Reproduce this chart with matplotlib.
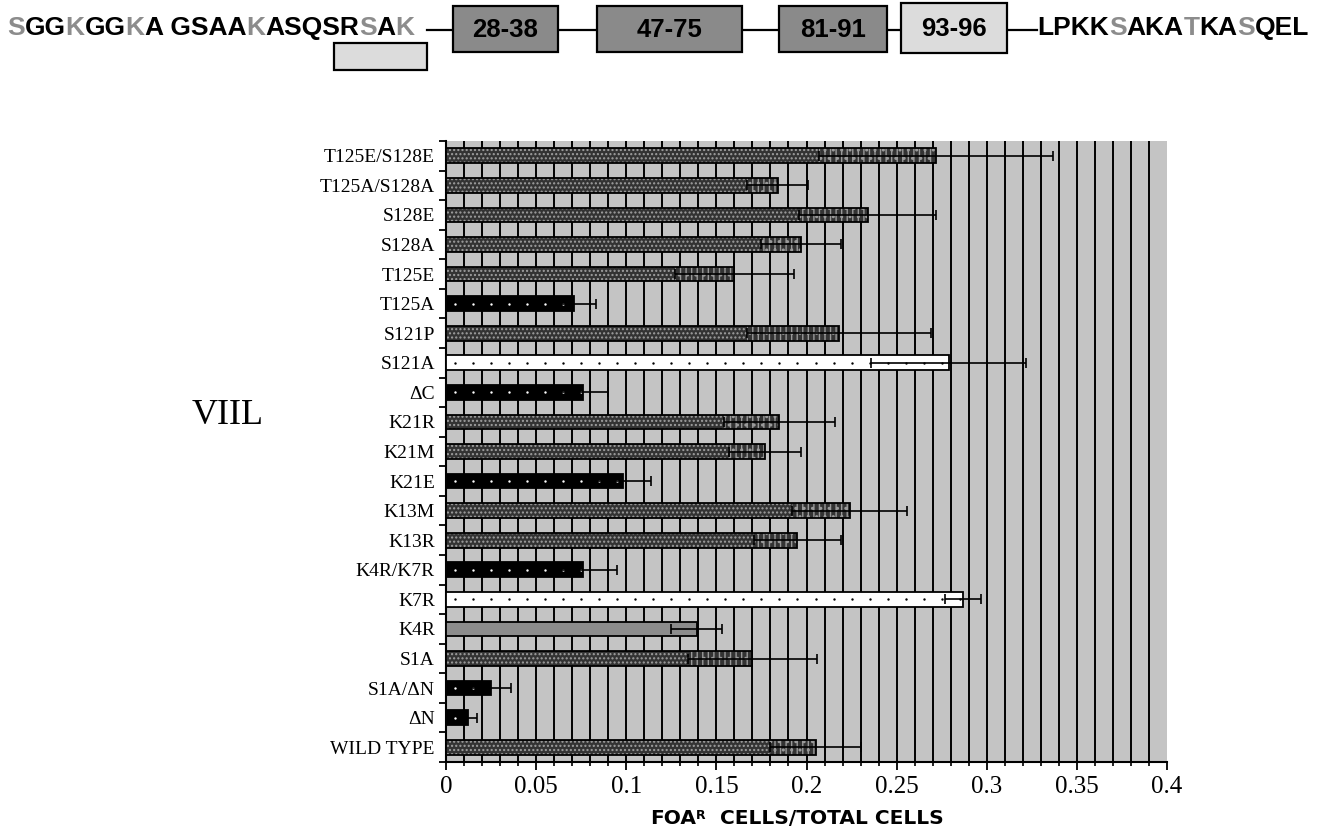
import numpy as np
import matplotlib
matplotlib.use("Agg")
import matplotlib.pyplot as plt
from matplotlib.patches import Rectangle
from matplotlib.offsetbox import TextArea, HPacker, AnnotationBbox

# ---------------- data ----------------
labels = ["T125E/S128E", "T125A/S128A", "S128E", "S128A", "T125E", "T125A",
          "S121P", "S121A", "\u0394C", "K21R", "K21M", "K21E", "K13M", "K13R",
          "K4R/K7R", "K7R", "K4R", "S1A", "S1A/\u0394N", "\u0394N", "WILD TYPE"]
values = [0.272, 0.184, 0.234, 0.197, 0.160, 0.071, 0.218, 0.279, 0.076, 0.185,
          0.177, 0.098, 0.224, 0.195, 0.076, 0.287, 0.139, 0.170, 0.025, 0.012, 0.205]
errors = [0.065, 0.017, 0.038, 0.022, 0.033, 0.012, 0.051, 0.043, 0.014, 0.031,
          0.020, 0.016, 0.032, 0.024, 0.019, 0.010, 0.014, 0.036, 0.011, 0.005, 0.025]
# bar style classes
kinds = ["hatch", "hatch", "hatch", "hatch", "hatch", "black", "hatch", "white",
         "black", "hatch", "hatch", "black", "hatch", "hatch", "black", "white",
         "gray", "hatch", "black", "black", "hatch"]
xticks = [0, 0.05, 0.1, 0.15, 0.2, 0.25, 0.3, 0.35, 0.4]
xticklabels = ["0", "0.05", "0.1", "0.15", "0.2", "0.25", "0.3", "0.35", "0.4"]

seq_left = [("S", "gray"), ("GG", "k"), ("K", "gray"), ("GG", "k"), ("K", "gray"),
            ("A GSAA", "k"), ("K", "gray"), ("ASQSR", "k"), ("S", "gray"),
            ("A", "k"), ("K", "gray")]
seq_right = [("LPKK", "k"), ("S", "gray"), ("AKA", "k"), ("T", "gray"),
             ("KA", "k"), ("S", "gray"), ("QEL", "k")]
domains = ["28-38", "47-75", "81-91", "93-96"]

W, H = 1318, 838
fig = plt.figure(figsize=(W / 100, H / 100), dpi=100)

# ---------------- top diagram (pixel coordinates) ----------------
ov = fig.add_axes([0, 0, 1, 1])
ov.set_xlim(0, W)
ov.set_ylim(H, 0)
ov.axis("off")

dark = "#8a8a8a"
light = "#dcdcdc"
boxes = [(453, 6, 105, 46, dark), (597, 6, 145, 46, dark),
         (779, 6, 108, 46, dark), (901, 3, 106, 50, light)]
for (x, y, w, h, c), lab in zip(boxes, domains):
    ov.add_patch(Rectangle((x, y), w, h, facecolor=c, edgecolor="black", lw=1.6, zorder=3))
    ov.text(x + w / 2, y + h / 2 + 1, lab, ha="center", va="center", fontsize=18.5,
            fontweight="bold", family="Liberation Sans", zorder=4)
ov.add_patch(Rectangle((334, 43), 93, 27, facecolor=light, edgecolor="black", lw=1.6, zorder=3))
for x0, x1 in [(427, 453), (558, 597), (742, 779), (887, 901), (1007, 1037)]:
    ov.plot([x0, x1], [30, 30], color="black", lw=1.6, zorder=2)


def seq_box(parts):
    areas = [TextArea(t, textprops=dict(color=("#8c8c8c" if c == "gray" else "black"),
                                        fontsize=19, fontweight="bold",
                                        family="Liberation Sans"))
             for t, c in parts]
    return HPacker(children=areas, pad=0, sep=0, align="baseline")


ab = AnnotationBbox(seq_box(seq_left), (7, 28), xycoords="data", box_alignment=(0, 0.5),
                    frameon=False, pad=0)
ov.add_artist(ab)
ab = AnnotationBbox(seq_box(seq_right), (1037, 28), xycoords="data", box_alignment=(0, 0.5),
                    frameon=False, pad=0)
ov.add_artist(ab)

ov.text(228, 415, "VIIL", ha="center", va="center", fontsize=26, family="Liberation Serif")

# x label with superscript
xl = HPacker(children=[
    TextArea("FOA", textprops=dict(fontsize=14.5, fontweight="bold", family="DejaVu Sans")),
    TextArea("R", textprops=dict(fontsize=9, fontweight="bold", family="DejaVu Sans")),
    TextArea("  CELLS/TOTAL CELLS", textprops=dict(fontsize=14.5, fontweight="bold", family="DejaVu Sans")),
], pad=0, sep=0, align="top")
ov.add_artist(AnnotationBbox(xl, (797, 818), xycoords="data", box_alignment=(0.5, 0.5),
                             frameon=False, pad=0))

# ---------------- bar chart ----------------
ax = fig.add_axes([446 / W, 1 - 762 / H, (1167 - 446) / W, (762 - 141) / H])
ax.set_zorder(2)
ax.set_facecolor("#c4c4c4")
n = len(labels)
ypos = np.arange(n)
ax.set_xlim(0, 0.4)
ax.set_ylim(n - 0.6, -0.5)

for gx in np.arange(1, 40) / 100:
    ax.axvline(gx, color="black", lw=1.4, zorder=1)

bh = 0.5
plt.rcParams["hatch.linewidth"] = 1.0
for y, v, e, k in zip(ypos, values, errors, kinds):
    if k == "hatch":
        ax.barh(y, v, height=bh, color="#333333", edgecolor="#a0a0a0", hatch="....",
                lw=0, zorder=3)
        ax.barh(y, e, left=v - e, height=bh, color="#333333", edgecolor="#9a9a9a",
                hatch="|||..", lw=0, zorder=3)
    elif k == "black":
        ax.barh(y, v, height=bh, color="black", lw=0, zorder=3)
        dx = np.arange(0.005, v, 0.01)
        ax.scatter(dx, np.full(dx.shape, y), s=3, color="white", zorder=4, lw=0)
    elif k == "white":
        ax.barh(y, v, height=bh, color="white", lw=0, zorder=3)
        dx = np.arange(0.005, v, 0.01)
        ax.scatter(dx, np.full(dx.shape, y), s=3, color="black", zorder=4, lw=0)
    else:
        ax.barh(y, v, height=bh, color="#8c8c8c", lw=0, zorder=3)
    ax.barh(y, v, height=bh, fill=False, edgecolor="black", lw=1.3, zorder=5)

ax.errorbar(values, ypos, xerr=errors, fmt="none", ecolor="black", elinewidth=1.2,
            capsize=3.5, capthick=1.2, zorder=6)

ax.set_yticks(ypos)
ax.set_yticklabels(labels, family="Liberation Serif", fontsize=14)
ax.set_yticks(np.arange(n + 1) - 0.5, minor=True)
ax.tick_params(axis="y", which="major", length=0, pad=8)
ax.tick_params(axis="y", which="minor", length=5, width=1.3, direction="out")

ax.set_xticks(xticks)
ax.set_xticklabels(xticklabels, family="Liberation Serif", fontsize=18)
ax.set_xticks(np.arange(0, 41) / 100, minor=True)
ax.tick_params(axis="x", which="major", length=6, width=1.3, direction="out", pad=4)
ax.tick_params(axis="x", which="minor", length=3, width=1.2, direction="out")

for s in ["top", "right"]:
    ax.spines[s].set_visible(False)
for s in ["left", "bottom"]:
    ax.spines[s].set_linewidth(1.5)

fig.savefig("out.png", dpi=100)
